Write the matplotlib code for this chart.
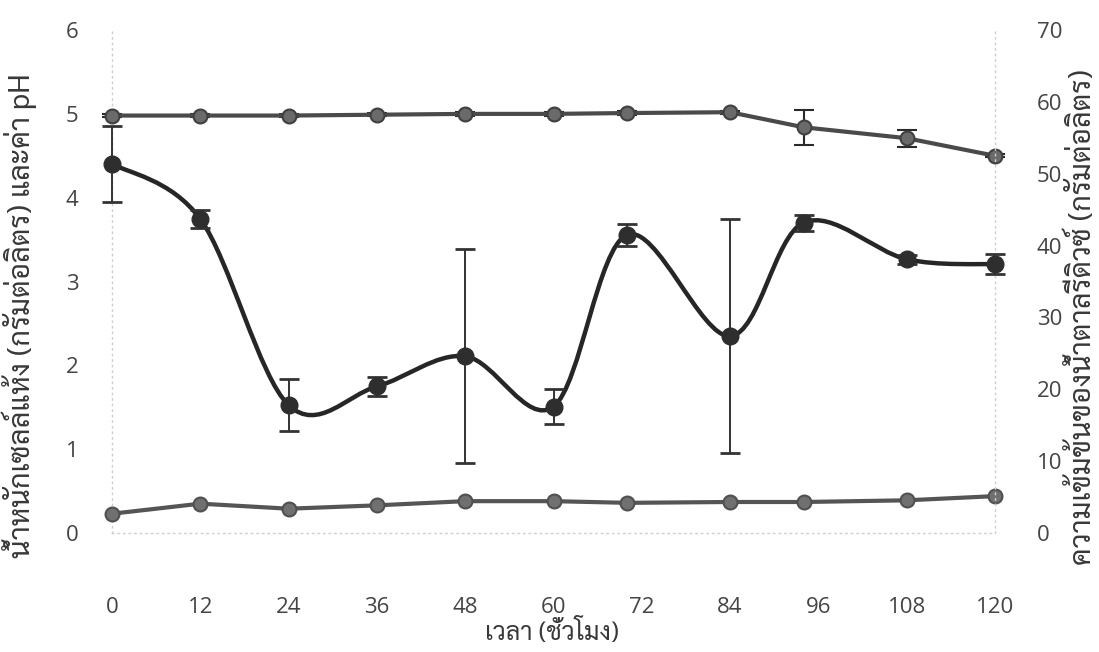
import matplotlib
matplotlib.use('Agg')
import matplotlib.pyplot as plt
from matplotlib.path import Path
from matplotlib.patches import PathPatch
import numpy as np

hours = [0, 12, 24, 36, 48, 60, 70, 84, 94, 108, 120]
ph = [4.98, 4.98, 4.98, 4.99, 5.00, 5.00, 5.01, 5.02, 4.84, 4.71, 4.50]
ph_err = [0.02, 0.02, 0.02, 0.02, 0.02, 0.02, 0.02, 0.02, 0.21, 0.10, 0.02]
sugar = [51.4, 43.7, 17.8, 20.4, 24.6, 17.6, 41.5, 27.4, 43.2, 38.1, 37.4]
sugar_err = [5.3, 1.3, 3.6, 1.3, 14.9, 2.4, 1.5, 16.3, 1.1, 0.6, 1.4]
dcw = [0.23, 0.35, 0.29, 0.33, 0.38, 0.38, 0.36, 0.37, 0.37, 0.39, 0.44]

xticks = [0, 12, 24, 36, 48, 60, 72, 84, 96, 108, 120]
left_ticks = [0, 1, 2, 3, 4, 5, 6]
right_ticks = [0, 10, 20, 30, 40, 50, 60, 70]

thai = ['Sarabun', 'Noto Sans Thai', 'DejaVu Sans']
num = ['Open Sans', 'DejaVu Sans']
tick_col = '#444444'


def smooth_path(x, y):
    # excel style smoothed line: catmull-rom segments as cubic beziers
    x = np.asarray(x, float)
    y = np.asarray(y, float)
    pts = np.column_stack([x, y])
    verts = [pts[0]]
    codes = [Path.MOVETO]
    n = len(pts)
    for i in range(n - 1):
        p0 = pts[i - 1] if i > 0 else pts[i]
        p1 = pts[i]
        p2 = pts[i + 1]
        p3 = pts[i + 2] if i + 2 < n else pts[i + 1]
        c1 = p1 + (p2 - p0) / 6.0
        c2 = p2 - (p3 - p1) / 6.0
        verts += [c1, c2, p2]
        codes += [Path.CURVE4] * 3
    return Path(verts, codes)


fig = plt.figure(figsize=(10.99, 6.52), dpi=100)
ax = fig.add_axes([0.1019, 0.1825, 0.8035, 0.7714])
ax2 = ax.twinx()

# pH (left)
ax.errorbar(hours, ph, yerr=ph_err, color='#4a4a4a', lw=3, marker='o', ms=10,
            mfc='#6a6a6a', mec='#404040', mew=1.5, ecolor='#2a2a2a',
            elinewidth=1.5, capsize=7, capthick=2, clip_on=False, zorder=3)
# dry cell weight (left)
ax.errorbar(hours, dcw, yerr=0.02, color='#555555', lw=3, marker='o', ms=10,
            mfc='#707070', mec='#505050', mew=1.5, ecolor='#555555',
            elinewidth=1, capsize=4, clip_on=False, zorder=3)

# reducing sugar (right) with smoothed curve
ax2.add_patch(PathPatch(smooth_path(hours, sugar), fill=False,
                        ec='#262626', lw=3.2, zorder=2, clip_on=False))
ax2.errorbar(hours, sugar, yerr=sugar_err, fmt='o', ms=12, mfc='#2e2e2e',
             mec='#2e2e2e', ecolor='#333333', elinewidth=1.4, capsize=7,
             capthick=2, clip_on=False, zorder=3)

ax.set_xlim(0, 120)
ax.set_ylim(0, 6)
ax2.set_ylim(0, 70)
ax.set_xticks(xticks)
ax.set_yticks(left_ticks)
ax2.set_yticks(right_ticks)

for a in (ax, ax2):
    for s in a.spines.values():
        s.set_visible(False)
ax.spines['left'].set_visible(True)
ax.spines['bottom'].set_visible(True)
ax2.spines['right'].set_visible(True)
for s in (ax.spines['left'], ax.spines['bottom'], ax2.spines['right']):
    s.set_color('#cfcfcf')
    s.set_linestyle((0, (1, 3)))
    s.set_linewidth(1)

ax.tick_params(axis='x', length=0, pad=46, labelsize=16, labelcolor=tick_col)
ax.tick_params(axis='y', length=0, pad=24, labelsize=16, labelcolor=tick_col)
ax2.tick_params(axis='y', length=0, pad=30, labelsize=16, labelcolor=tick_col)
for lab in ax.get_xticklabels() + ax.get_yticklabels() + ax2.get_yticklabels():
    lab.set_family(num)

fig.text(552 / 1099, 1 - 633 / 652, 'เวลา (ชั่วโมง)', family=thai,
         fontsize=18, color='#383838', ha='center', va='center')
fig.text(19 / 1099, 1 - 558 / 652, 'น้ำหนักเซลล์แห้ง (กรัมต่อลิตร) และค่า pH',
         family=thai, fontsize=21, color='#383838', rotation=90,
         ha='center', va='bottom')
fig.text(1083 / 1099, 1 - 565 / 652, 'ความเข้มข้นของน้ำตาลรีดิวซ์ (กรัมต่อลิตร)',
         family=thai, fontsize=21, color='#383838', rotation=90,
         ha='center', va='bottom')

fig.savefig('out.png', dpi=100)
